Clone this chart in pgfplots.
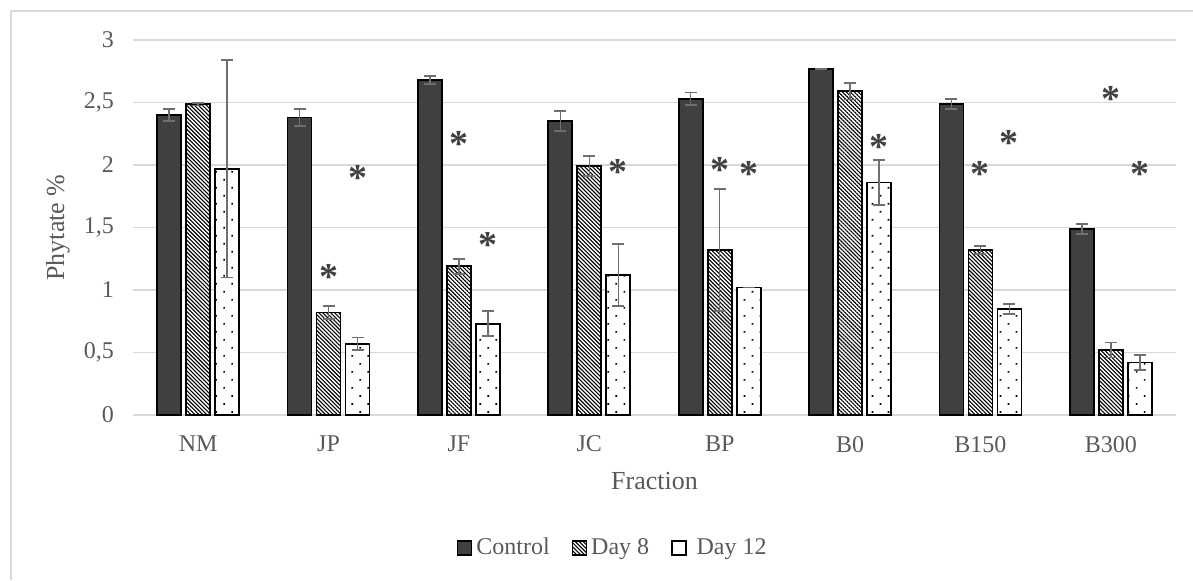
\documentclass[border=0pt]{standalone}
\usepackage{fontspec}
\setmainfont{Liberation Serif}
\usepackage{pgfplots}
\usepackage{pgfplotstable}
\pgfplotsset{compat=1.18}
\usetikzlibrary{patterns.meta}
\definecolor{ctrl}{HTML}{404040}
\definecolor{txt}{HTML}{595959}
\definecolor{gridc}{HTML}{D9D9D9}
\definecolor{errc}{HTML}{6F6F6F}
\newcommand{\sigast}{{\fontsize{19}{19}\selectfont\bfseries\color{ctrl}\raisebox{0pt}[0.68em][-0.35em]{*}}}

\pgfplotstableread{
x y e
0 2.40 0.05
1 2.38 0.07
2 2.68 0.03
3 2.35 0.08
4 2.53 0.05
5 2.77 0.00
6 2.49 0.04
7 1.49 0.04
}\tabctrl
\pgfplotstableread{
x y e
0 2.485 0.01
1 0.82 0.05
2 1.19 0.06
3 1.99 0.08
4 1.32 0.49
5 2.59 0.065
6 1.32 0.03
7 0.52 0.06
}\tabdaye
\pgfplotstableread{
x y e
0 1.97 0.87
1 0.57 0.05
2 0.73 0.10
3 1.12 0.25
4 1.02 0.00
5 1.86 0.18
6 0.85 0.04
7 0.42 0.06
}\tabdayt

\begin{document}
\begin{tikzpicture}
\path[use as bounding box] (-66.5pt,-82.5pt) rectangle (530pt,207.5pt);
\draw[gridc, line width=0.75pt] (-61pt,-82.5pt) -- (-61pt,202pt) -- (530pt,202pt);
\begin{axis}[
  at={(0pt,0pt)}, anchor=south west,
  scale only axis, width=521.5pt, height=187.5pt,
  xmin=-0.5, xmax=7.5, ymin=0, ymax=3,
  xtick={0,...,7}, xticklabels={NM,JP,JF,JC,BP,B0,B150,B300},
  ytick={0,0.5,1,1.5,2,2.5,3},
  /pgf/number format/.cd, use comma, assume math mode=true, /pgfplots/.cd,
  ymajorgrids, grid style={gridc, line width=0.75pt},
  axis line style={draw=none}, major tick length=0pt,
  tick label style={font=\fontsize{12}{14}\selectfont, text=txt},
  xticklabel style={yshift=-7pt},
  yticklabel style={xshift=-6pt},
  xlabel={Fraction}, ylabel={Phytate \%},
  label style={font=\fontsize{13}{15}\selectfont, text=txt},
  xlabel style={at={(rel axis cs:0.5,-0.176)}, anchor=center},
  ylabel style={at={(rel axis cs:-0.0719,0.5)}, anchor=center},
  legend style={at={(0.461,-0.355)}, anchor=center, draw=none, fill=none,
    legend columns=-1, font=\fontsize{12}{14}\selectfont, text=txt,
    /tikz/every even column/.append style={column sep=9pt}},
  legend image code/.code={\draw[#1, line width=0.7pt] (0pt,-3.5pt) rectangle (7pt,3.5pt);},
  clip=false,
]
\addplot[ybar, bar width=0.184, bar shift=-0.2224, fill=ctrl, draw=black, line width=0.9pt]
  table[x=x, y=y]{\tabctrl};
\addlegendentry{Control}
\addplot[ybar, bar width=0.184, bar shift=0, fill=white, draw=black, line width=0.9pt,
  postaction={pattern={Lines[angle=-45, distance=1.4pt, line width=0.55pt]}}]
  table[x=x, y=y]{\tabdaye};
\addlegendentry{Day 8}
\addplot[ybar, bar width=0.184, bar shift=0.2224, fill=white, draw=black, line width=0.9pt,
  postaction={pattern={Dots[distance=5.66pt, angle=45, radius=0.6pt]}}]
  table[x=x, y=y]{\tabdayt};
\addlegendentry{\ Day 12}

\addplot[forget plot, draw=none, mark=none,
  error bars/.cd, y dir=both, y explicit,
  error bar style={draw=errc, line width=0.8pt},
  error mark options={rotate=90, mark size=3pt, draw=errc, line width=0.8pt}]
  table[x expr=\thisrow{x}-0.2224, y=y, y error=e]{\tabctrl};
\addplot[forget plot, draw=none, mark=none,
  error bars/.cd, y dir=both, y explicit,
  error bar style={draw=errc, line width=0.8pt},
  error mark options={rotate=90, mark size=3pt, draw=errc, line width=0.8pt}]
  table[x=x, y=y, y error=e]{\tabdaye};
\addplot[forget plot, draw=none, mark=none,
  error bars/.cd, y dir=both, y explicit,
  error bar style={draw=errc, line width=0.8pt},
  error mark options={rotate=90, mark size=3pt, draw=errc, line width=0.8pt}]
  table[x expr=\thisrow{x}+0.2224, y=y, y error=e]{\tabdayt};

\addplot[forget plot, only marks, mark=text, text mark={\sigast}]
  coordinates {(1,1.11) (1.2224,1.90) (2,2.17) (2.2224,1.36) (3.2224,1.95)
    (4,1.96) (4.2224,1.93) (5.2224,2.15) (6,1.93) (6.2224,2.18) (7,2.53) (7.2224,1.93)};
\end{axis}
\end{tikzpicture}
\end{document}
